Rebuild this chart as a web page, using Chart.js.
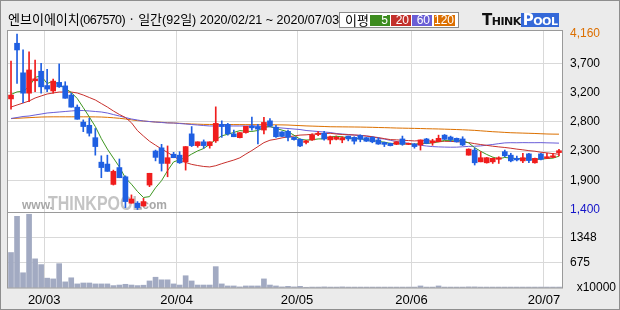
<!DOCTYPE html>
<html>
<head>
<meta charset="utf-8">
<script src="https://cdn.jsdelivr.net/npm/chart.js@4.4.1/dist/chart.umd.min.js"></script>
<style>
  html, body { margin: 0; padding: 0; background: #ebebeb; }
  #wrap { position: relative; width: 620px; height: 310px; overflow: hidden; background: #ebebeb; }
  #wrap canvas { position: absolute; left: 0; top: 0; }
  #frame { position: absolute; left: 0; top: 0; width: 618px; height: 308px; border: 1px solid #8e8e8e; pointer-events: none; }
  #title { position: absolute; left: 8px; top: 11px; font: 13px "Noto Sans CJK KR", sans-serif; color: #000; white-space: nowrap; line-height: 16px; }
  #title .a { font-family: "Liberation Sans", sans-serif; font-size: 12.5px; }
  #title .n { letter-spacing: -0.6px; }
  #legend { position: absolute; left: 339px; top: 12px; width: 118px; height: 14px; background: #fff; border: 1px solid #8a8a8a; }
  #legend .lbl { position: absolute; left: 5px; top: -1px; font: 13px "Noto Sans CJK KR", sans-serif; line-height: 16px; }
  #legend .box { position: absolute; top: 2px; height: 11px; color: #fff; font: 12px "Liberation Sans", sans-serif; line-height: 11px; text-align: right; padding-right: 2px; box-sizing: border-box; }
  #logo { position: absolute; left: 482px; top: 13px; height: 15px; white-space: nowrap; }
  #logo .think { font: bold 15px "DejaVu Sans", sans-serif; font-variant: small-caps; color: #111; letter-spacing: -0.5px; vertical-align: top; line-height: 15px; }
  #logo .pool { display: inline-block; background: #3468d8; color: #fff; font: bold 15px "DejaVu Sans", sans-serif; font-variant: small-caps; line-height: 14px; padding: 0 2px; letter-spacing: -0.5px; vertical-align: top; }
</style>
</head>
<body>
<div id="wrap">
  <canvas id="chart" width="620" height="310"></canvas>
  <div id="title">엔브이에이치<span class="a n">(067570)</span> · 일간<span class="a">(92</span>일<span class="a">) 2020/02/21 ~ 2020/07/03</span></div>
  <div id="legend">
    <span class="lbl">이평</span>
    <span class="box" style="left:30px;width:20px;background:#3d8c1f">5</span>
    <span class="box" style="left:51px;width:20px;background:#c3302b">20</span>
    <span class="box" style="left:72px;width:20px;background:#6a5ed6">60</span>
    <span class="box" style="left:94px;width:21px;background:#dc6f00">120</span>
  </div>
  <div id="logo"><span class="think">Think</span><span class="pool">Pool</span></div>
  <div id="frame"></div>
</div>
<script>
// trading days (yy/mm/dd)
const dates = [
  '20/02/21','20/02/24','20/02/25','20/02/26','20/02/27','20/02/28',
  '20/03/02','20/03/03','20/03/04','20/03/05','20/03/06','20/03/09','20/03/10','20/03/11','20/03/12','20/03/13',
  '20/03/16','20/03/17','20/03/18','20/03/19','20/03/20','20/03/23','20/03/24','20/03/25','20/03/26','20/03/27',
  '20/03/30','20/03/31',
  '20/04/01','20/04/02','20/04/03','20/04/06','20/04/07','20/04/08','20/04/09','20/04/10','20/04/13','20/04/14',
  '20/04/16','20/04/17','20/04/20','20/04/21','20/04/22','20/04/23','20/04/24','20/04/27','20/04/28','20/04/29',
  '20/05/04','20/05/06','20/05/07','20/05/08','20/05/11','20/05/12','20/05/13','20/05/14','20/05/15','20/05/18',
  '20/05/19','20/05/20','20/05/21','20/05/22','20/05/25','20/05/26','20/05/27','20/05/28','20/05/29',
  '20/06/01','20/06/02','20/06/03','20/06/04','20/06/05','20/06/08','20/06/09','20/06/10','20/06/11','20/06/12',
  '20/06/15','20/06/16','20/06/17','20/06/18','20/06/19','20/06/22','20/06/23','20/06/24','20/06/25','20/06/26',
  '20/06/29','20/06/30',
  '20/07/01','20/07/02','20/07/03'
];

const openP = [
  3140,4015,3550,3230,3425,3575,3350,3265,3400,3345,3200,3010,2775,2725,2530,2145,2115,1795,2060,1915,
  1500,1500,1455,1785,2320,2370,2125,2270,2255,2150,2590,2405,2465,2405,2480,2740,2740,2590,2530,2610,
  2715,2705,2650,2795,2695,2620,2630,2535,2505,2455,2495,2580,2600,2495,2505,2495,2555,2535,2565,2530,
  2535,2495,2455,2440,2425,2510,2425,2430,2415,2510,2450,2465,2570,2540,2520,2510,2255,2335,2150,2135,
  2150,2190,2310,2255,2205,2165,2275,2135,2275,2205,2220,2295
];
const highP = [
  3735,4160,3910,3880,3750,3700,3605,3450,3690,3410,3230,3045,2810,2835,2675,2245,2255,2020,2195,1930,
  1630,1525,1575,1970,2335,2425,2400,2300,2310,2390,2705,2465,2495,2465,3015,2795,2755,2650,2610,2710,
  2855,2740,2850,2830,2725,2625,2650,2540,2510,2490,2590,2625,2630,2555,2555,2545,2555,2545,2575,2535,
  2545,2530,2460,2445,2470,2555,2445,2440,2495,2520,2505,2570,2580,2555,2525,2545,2355,2365,2310,2220,
  2210,2230,2335,2285,2240,2285,2285,2210,2285,2285,2285,2345
];
const lowP = [
  2980,3385,3080,3095,3255,3230,3255,3230,3320,3150,3010,2820,2625,2555,2255,1900,2000,1785,1900,1430,
  1500,1400,1455,1760,2165,2005,1915,2215,2125,2020,2390,2380,2365,2365,2455,2535,2570,2545,2525,2600,
  2650,2430,2590,2705,2535,2545,2480,2490,2390,2430,2485,2560,2490,2430,2495,2450,2480,2430,2465,2470,
  2450,2425,2390,2400,2420,2410,2420,2365,2335,2435,2410,2465,2500,2470,2460,2405,2255,2100,2150,2130,
  2125,2125,2230,2150,2165,2135,2135,2130,2180,2200,2215,2245
];
const closeP = [
  3200,3910,3230,3595,3455,3330,3295,3420,3330,3150,3010,2820,2705,2600,2390,2060,2000,2000,1900,1525,
  1565,1430,1525,1970,2220,2125,2215,2215,2135,2390,2405,2465,2405,2465,2755,2705,2590,2545,2610,2710,
  2685,2665,2770,2715,2545,2550,2535,2500,2400,2480,2570,2600,2510,2545,2535,2530,2510,2475,2505,2475,
  2465,2430,2425,2405,2465,2425,2440,2390,2495,2440,2475,2520,2505,2500,2465,2415,2350,2135,2215,2215,
  2205,2215,2245,2165,2180,2215,2170,2205,2190,2230,2245,2325
];
// volume, x10000 shares
const volume = [
  955,1930,410,1985,785,630,265,245,655,165,275,110,135,135,110,110,110,65,80,100,
  80,65,75,190,290,220,220,110,80,330,190,80,80,80,575,110,55,55,30,55,
  55,55,245,80,55,30,45,30,45,20,25,25,30,25,25,30,25,25,25,25,
  25,25,25,25,25,25,25,25,55,25,25,55,25,25,25,25,30,30,25,25,
  25,25,25,25,25,25,25,25,25,25,25,25
];
// moving averages
const ma5 = [
  3210,3250,3260,3330,3478,3504,3381,3419,3366,3305,3241,3146,3003,2857,2705,2515,2351,2210,2070,1897,
  1798,1684,1589,1603,1742,1854,2011,2149,2182,2216,2272,2322,2360,2426,2499,2559,2584,2612,2641,2632,
  2628,2643,2688,2709,2676,2649,2623,2569,2506,2493,2497,2510,2512,2541,2552,2544,2526,2519,2511,2499,
  2486,2470,2460,2440,2438,2430,2432,2425,2443,2438,2448,2464,2487,2488,2493,2481,2447,2373,2316,2266,
  2224,2197,2219,2209,2202,2204,2195,2187,2192,2202,2208,2239
];
const ma20 = [
  3012,3044,3075,3107,3154,3186,3217,3233,3248,3248,3248,3233,3201,3162,3123,3067,3012,2950,2895,2846,
  2765,2641,2555,2474,2412,2352,2298,2238,2178,2140,2110,2092,2077,2070,2089,2121,2150,2178,2213,2272,
  2328,2390,2452,2490,2506,2527,2543,2557,2571,2575,2583,2590,2595,2599,2588,2580,2576,2572,2567,2555,
  2544,2532,2515,2500,2496,2489,2485,2479,2484,2482,2477,2473,2473,2471,2467,2461,2453,2436,2422,2409,
  2396,2385,2376,2364,2350,2339,2326,2317,2301,2291,2279,2270
];
const ma60 = [
  2832,2847,2863,2871,2887,2902,2918,2926,2934,2942,2950,2957,2957,2950,2942,2934,2918,2894,2871,2847,
  2824,2808,2792,2784,2776,2769,2761,2761,2753,2745,2737,2729,2721,2714,2714,2714,2714,2714,2714,2714,
  2714,2714,2706,2698,2690,2682,2674,2666,2658,2643,2635,2627,2619,2611,2596,2588,2580,2572,2564,2558,
  2546,2521,2508,2488,2471,2456,2442,2425,2411,2399,2390,2385,2382,2380,2381,2387,2393,2395,2401,2412,
  2423,2436,2448,2451,2450,2452,2451,2451,2452,2449,2447,2444
];
const ma120 = [
  2830,2835,2840,2845,2850,2855,2857,2858,2858,2858,2858,2858,2858,2858,2857,2855,2850,2843,2835,2824,
  2811,2798,2792,2784,2776,2772,2765,2761,2756,2751,2745,2742,2739,2738,2738,2737,2737,2736,2736,2735,
  2735,2734,2734,2733,2732,2731,2729,2724,2720,2715,2712,2709,2706,2702,2701,2700,2699,2698,2697,2695,
  2693,2690,2688,2685,2682,2680,2678,2676,2674,2671,2669,2667,2664,2661,2658,2654,2650,2645,2638,2631,
  2624,2619,2613,2608,2605,2602,2599,2596,2592,2588,2586,2585
];

const priceTicks = [1400, 1860, 2320, 2780, 3240, 3700, 4160];
const priceTickLabels = ['1,400', '1,900', '2,300', '2,800', '3,200', '3,700', '4,160'];
const priceTickColors = ['#1414c8', '#000', '#000', '#000', '#000', '#000', '#dc6f00'];
const volTicks = [0, 675, 1348];
const volTickLabels = ['  x10000', '675', '1348'];

const RED = '#f01d1d', BLUE = '#1f5fe2', GRID = '#d9d9d9', NONE = 'rgba(0,0,0,0)';
const isUp = i => closeP[i] >= openP[i];
const isMonthStart = i => i > 0 && i < dates.length && dates[i].slice(0, 5) !== dates[i - 1].slice(0, 5);

Chart.defaults.font.family = '"Liberation Sans", sans-serif';

const framePlugin = {
  id: 'frame',
  beforeDraw(chart) {
    const { ctx, chartArea: a } = chart;
    ctx.save();
    ctx.fillStyle = '#fff';
    ctx.fillRect(a.left, a.top, a.width, a.height);
    ctx.restore();
  },
  beforeDatasetsDraw(chart) {
    // faint site watermark in the price panel
    const { ctx, chartArea: a } = chart;
    const base = chart.scales.yP.bottom - 3;
    ctx.save();
    ctx.fillStyle = '#a8a8a8';
    ctx.font = 'bold 12px "Liberation Sans"';
    ctx.fillText('www.', a.left + 14, base);
    ctx.fillStyle = '#c4c4c4';
    ctx.font = 'bold 20px "Liberation Sans"';
    ctx.translate(a.left + 40, base + 1);
    ctx.scale(0.8, 1);
    ctx.fillText('THINKPOOL', 0, 0);
    ctx.restore();
    ctx.save();
    ctx.fillStyle = '#a8a8a8';
    ctx.font = 'bold 12px "Liberation Sans"';
    ctx.fillText('.com', a.left + 131, base);
    ctx.restore();
  },
  afterDraw(chart) {
    const { ctx, chartArea: a } = chart;
    const sep = chart.scales.yP.bottom;
    ctx.save();
    ctx.strokeStyle = '#9a9a9a';
    ctx.lineWidth = 1;
    ctx.strokeRect(a.left - 0.5, a.top - 0.5, a.width + 1, a.height + 0.5);
    ctx.beginPath();
    ctx.moveTo(a.left, Math.round(sep) + 0.5);
    ctx.lineTo(a.right, Math.round(sep) + 0.5);
    ctx.stroke();
    ctx.restore();
  }
};

const lineDs = (data, color) => ({
  type: 'line', yAxisID: 'yP', data, borderColor: color, borderWidth: 1,
  pointRadius: 0, tension: 0, order: 2
});

new Chart(document.getElementById('chart'), {
  data: {
    labels: dates,
    datasets: [
      {
        type: 'bar', yAxisID: 'yP', order: 1, grouped: false,
        data: dates.map((d, i) => [lowP[i], highP[i]]),
        backgroundColor: ctx => isUp(ctx.dataIndex) ? RED : BLUE,
        barThickness: 1, borderWidth: 0, borderSkipped: false
      },
      {
        type: 'bar', yAxisID: 'yP', order: 0, grouped: false,
        data: dates.map((d, i) => [openP[i], closeP[i]]),
        backgroundColor: ctx => isUp(ctx.dataIndex) ? RED : BLUE,
        barThickness: 5, minBarLength: 1, borderWidth: 0, borderSkipped: false
      },
      lineDs(ma5, '#3d9620'),
      lineDs(ma20, '#c8302c'),
      lineDs(ma60, '#6a5ed8'),
      lineDs(ma120, '#dc7000'),
      {
        type: 'bar', yAxisID: 'yV', order: 3, grouped: false,
        data: volume, backgroundColor: '#a2aac2', barThickness: 5, borderWidth: 0
      }
    ]
  },
  options: {
    responsive: false,
    animation: false,
    events: [],
    layout: { padding: { left: 8, top: 31, right: 0, bottom: 0 } },
    plugins: { legend: { display: false }, tooltip: { enabled: false } },
    scales: {
      x: {
        type: 'category', offset: true,
        grid: {
          offset: true, drawTicks: false,
          color: ctx => (ctx.type === 'tick' && isMonthStart(ctx.index)) ? GRID : NONE
        },
        border: { display: false },
        ticks: {
          autoSkip: false, maxRotation: 0, padding: 5, labelOffset: -3,
          color: '#000', font: { size: 13 },
          callback: (v, i) => isMonthStart(i) ? dates[i].slice(0, 5) : ''
        },
        afterFit: s => { s.height = 22; }
      },
      yP: {
        type: 'linear', position: 'right', stack: 'panes', stackWeight: 181,
        min: 1361, max: 4208,
        afterBuildTicks: s => { s.ticks = priceTicks.map(v => ({ value: v })); },
        grid: {
          drawTicks: false,
          color: ctx => (ctx.tick && ctx.tick.value > 1400 && ctx.tick.value < 4160) ? GRID : NONE
        },
        border: { display: false },
        ticks: {
          autoSkip: false, padding: 8, font: { size: 12 },
          color: ctx => priceTickColors[ctx.index] || '#000',
          callback: (v, i) => priceTickLabels[i]
        },
        afterFit: s => { s.width = 58; }
      },
      yV: {
        type: 'linear', position: 'right', stack: 'panes', stackWeight: 76,
        min: 0, max: 2046,
        afterBuildTicks: s => { s.ticks = volTicks.map(v => ({ value: v })); },
        grid: {
          drawTicks: false,
          color: ctx => (ctx.tick && ctx.tick.value > 0) ? GRID : NONE
        },
        border: { display: false },
        ticks: {
          autoSkip: false, padding: 8, font: { size: 12 }, color: '#000',
          callback: (v, i) => volTickLabels[i]
        },
        afterFit: s => { s.width = 58; }
      }
    }
  },
  plugins: [framePlugin]
});
</script>
</body>
</html>
